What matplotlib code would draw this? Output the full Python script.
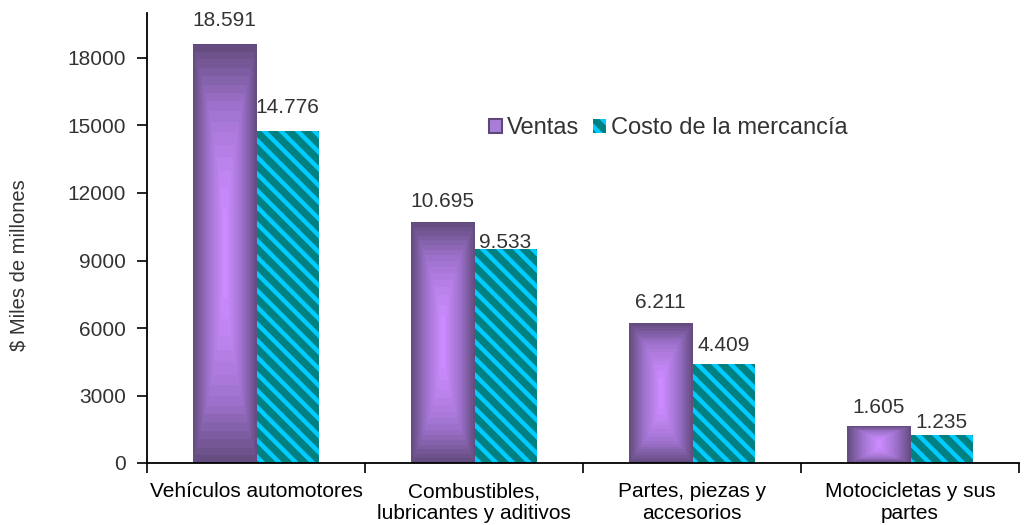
import numpy as np
import matplotlib
matplotlib.use("Agg")
import matplotlib.pyplot as plt
from matplotlib.colors import LinearSegmentedColormap
from matplotlib.patches import Patch
from matplotlib.ticker import FixedLocator

plt.rcParams['font.family'] = ['Liberation Sans', 'DejaVu Sans']
plt.rcParams['hatch.linewidth'] = 3.2

categories = ["Vehículos automotores", "Combustibles,\nlubricantes y aditivos",
              "Partes, piezas y\naccesorios", "Motocicletas y sus\npartes"]
ventas = [18591, 10695, 6211, 1605]
costo = [14776, 9533, 4409, 1235]
yticks = [0, 3000, 6000, 9000, 12000, 15000, 18000]

# gap (pixels) between each bar top and the baseline of its value label
label_gap_v = [19, 15, 15, 14]
label_gap_c = [18, 1, 13, 7]

text_color = "#333333"
dark_purple = "#5E4878"
light_purple = "#CC8CFF"
teal = "#008080"
cyan = "#00CCFF"

cmap = LinearSegmentedColormap.from_list("ventas", [light_purple, "#9E72CC", dark_purple])

fig = plt.figure(figsize=(10.25, 5.25), dpi=100)
ax = fig.add_axes([147 / 1025, (525 - 463) / 525, (1019 - 147) / 1025, (463 - 13) / 525])

x = np.arange(len(categories))
w = 0.29

bars_v = ax.bar(x - w / 2, ventas, width=w, facecolor="none", edgecolor="none", zorder=2)
bars_c = ax.bar(x + w / 2, costo, width=w, facecolor=teal, edgecolor=cyan,
                hatch="\\\\", linewidth=0, zorder=2)

# rectangular gradient fill (light centre, dark rim) for the sales bars
n = 300
levels = 16
for b in bars_v:
    x0, y0 = b.get_x(), b.get_y()
    bw, bh = b.get_width(), b.get_height()
    u = np.linspace(-1, 1, n)
    U, V = np.meshgrid(u, u)
    d = np.maximum(np.abs(U), np.abs(V) ** 1.8)
    d = np.floor(d * levels) / levels
    ax.imshow(d, cmap=cmap, extent=[x0, x0 + bw, y0, y0 + bh], origin="lower",
              aspect="auto", interpolation="nearest", vmin=0, vmax=1, zorder=2)

for bars, vals, gaps in ((bars_v, ventas, label_gap_v), (bars_c, costo, label_gap_c)):
    for b, v, g in zip(bars, vals, gaps):
        ax.annotate(f"{v:,}".replace(",", "."),
                    xy=(b.get_x() + b.get_width() / 2, v),
                    xytext=(0, g), textcoords="offset pixels",
                    ha="center", va="baseline", fontsize=15, color=text_color,
                    zorder=3)

ax.set_xlim(-0.5, len(categories) - 0.5)
ax.set_ylim(0, 20000)
ax.set_yticks(yticks)
ax.set_yticklabels([str(t) for t in yticks], fontsize=15, color=text_color)
ax.set_xticks(x)
ax.set_xticklabels(categories, fontsize=15, color="black", linespacing=1.15)
ax.tick_params(axis="x", which="major", length=0, pad=14)
ax.xaxis.set_minor_locator(FixedLocator(np.arange(-0.5, len(categories), 1.0)))
ax.tick_params(axis="x", which="minor", length=7, width=1.2, color="black")
ax.tick_params(axis="y", length=7, width=1.2, color="black", direction="out", pad=8)

for s in ["top", "right"]:
    ax.spines[s].set_visible(False)
for s in ["left", "bottom"]:
    ax.spines[s].set_linewidth(1.3)
    ax.spines[s].set_color("black")

ax.set_ylabel("$ Miles de millones", fontsize=14.5, color=text_color)
ax.yaxis.set_label_coords((28 - 147) / (1019 - 147), (463 - 265) / (463 - 13))

handles = [Patch(facecolor="#A77FD6", edgecolor=dark_purple, linewidth=1.5),
           Patch(facecolor=teal, edgecolor=cyan, hatch="\\\\", linewidth=0)]
ax.legend(handles, ["Ventas", "Costo de la mercancía"], loc="center",
          bbox_to_anchor=((668 - 147) / (1019 - 147), (463 - 128) / (463 - 13)),
          ncol=2, frameon=False, fontsize=17, handlelength=0.55, handleheight=0.55,
          handletextpad=0.2, columnspacing=0.6, labelcolor=text_color)

fig.savefig("out.png", dpi=100)
